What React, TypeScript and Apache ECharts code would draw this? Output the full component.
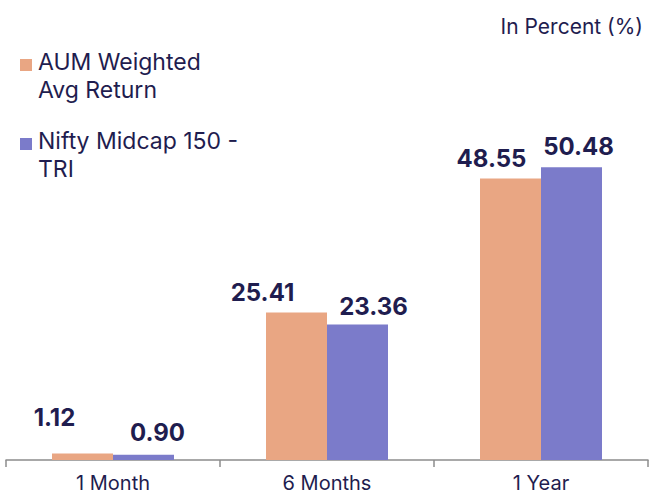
import React, { useEffect, useRef } from "react";
import * as echarts from "echarts";

const categories = ["1 Month", "6 Months", "1 Year"];
const seriesNames = ["AUM Weighted Avg Return", "Nifty Midcap 150 - TRI"];
const legendLines = [["AUM Weighted", "Avg Return"], ["Nifty Midcap 150 -", "TRI"]];
const aumReturn = [1.12, 25.41, 48.55];
const niftyReturn = [0.9, 23.36, 50.48];
const unitLabel = "In Percent (%)";

// label nudges (style only)
const aumLabelOffsets = [[-28, -16], [-34, 0], [-19, 0]];
const niftyLabelOffsets = [[14, -2], [16, 2], [7, -1]];

const NAVY = "#1f1d4f";
const ORANGE = "#e9a683";
const PURPLE = "#7b7bca";
const FONT = "Inter, 'Noto Sans', sans-serif";

export default function App() {
  const ref = useRef<HTMLDivElement>(null);
  useEffect(() => {
    if (!ref.current) return;
    const chart = echarts.init(ref.current, null, { renderer: "svg" });
    const labelBase = {
      show: true,
      position: "top",
      distance: 8,
      color: NAVY,
      fontSize: 24,
      fontWeight: "bold",
      fontFamily: FONT,
      formatter: (p: any) => Number(p.value).toFixed(2),
    };
    const colors = [ORANGE, PURPLE];
    const legendGraphics: any[] = [];
    const legendTops = [47.5, 126.5];
    legendLines.forEach((lines, i) => {
      legendGraphics.push({
        type: "rect",
        left: 20,
        top: legendTops[i] + 11.5,
        shape: { width: 12, height: 12 },
        style: { fill: colors[i] },
      });
      legendGraphics.push({
        type: "text",
        left: 38,
        top: legendTops[i],
        style: {
          text: lines.join("\n"),
          fill: NAVY,
          font: `normal 23px ${FONT}`,
          lineHeight: 28,
        },
      });
    });
    chart.setOption({
      animation: false,
      backgroundColor: "#ffffff",
      title: {
        text: unitLabel,
        right: 2,
        top: 11,
        textStyle: { fontSize: 21, fontWeight: "normal", color: NAVY, fontFamily: FONT },
      },
      grid: { left: 6, right: 2, top: 112, bottom: 35, containLabel: false },
      xAxis: {
        type: "category",
        data: categories,
        axisLine: { lineStyle: { color: "#8c8c8c", width: 1.5 } },
        axisTick: { show: true, length: 7, lineStyle: { color: "#8c8c8c", width: 1.5 } },
        axisLabel: { fontSize: 20, color: NAVY, margin: 13, fontFamily: FONT },
      },
      yAxis: { type: "value", min: 0, max: 60, show: false, splitLine: { show: false } },
      graphic: legendGraphics,
      series: [
        {
          name: seriesNames[0],
          type: "bar",
          barWidth: 61,
          barGap: "0%",
          itemStyle: { color: ORANGE },
          label: labelBase,
          data: aumReturn.map((v, i) => ({ value: v, label: { offset: aumLabelOffsets[i] } })),
        },
        {
          name: seriesNames[1],
          type: "bar",
          barWidth: 61,
          barGap: "0%",
          itemStyle: { color: PURPLE },
          label: labelBase,
          data: niftyReturn.map((v, i) => ({ value: v, label: { offset: niftyLabelOffsets[i] } })),
        },
      ],
    });
    return () => chart.dispose();
  }, []);
  return (
    <div
      ref={ref}
      style={{ position: "absolute", left: 0, top: 0, width: 650, height: 495 }}
    />
  );
}
